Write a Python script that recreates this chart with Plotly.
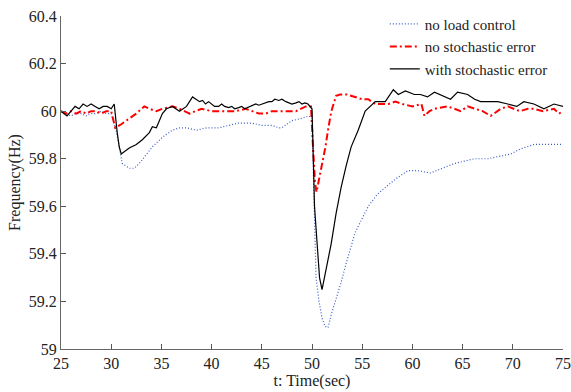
import plotly.graph_objects as go

# ---- data: with stochastic error (black) ----
t_with = [25.0,25.3,25.6,26.0,26.4,26.8,27.2,27.6,28.0,28.4,28.8,29.2,29.6,30.0,30.3,30.6,30.8,31.0,31.3,31.8,
          32.5,33.1,33.8,34.1,34.5,34.8,35.1,35.5,36.1,36.8,37.5,38.1,38.5,38.8,39.1,39.4,39.7,40.0,40.3,40.7,
          41.0,41.3,41.7,42.0,42.3,42.7,43.0,43.3,43.6,44.0,44.4,44.7,45.0,45.4,45.7,46.0,46.3,46.7,47.0,47.4,
          47.7,48.0,48.4,48.7,49.0,49.3,49.6,50.0,50.1,50.25,50.5,50.75,51.0,51.4,51.9,52.4,52.9,53.4,53.9,54.6,
          55.3,56.3,57.3,58.1,58.6,59.3,60.2,60.8,61.5,62.2,63.2,63.8,64.5,65.5,66.2,66.8,67.5,68.5,69.5,70.4,
          71.1,72.1,73.1,74.1,75.0]
f_with = [60.00,59.99,59.98,60.00,60.02,60.01,60.03,60.02,60.03,60.02,60.01,60.02,60.02,60.01,60.03,59.91,59.85,59.82,59.83,59.845,
          59.86,59.88,59.91,59.935,59.93,59.96,59.99,60.01,60.02,60.00,60.02,60.06,60.05,60.04,60.045,60.03,60.04,60.03,60.02,60.02,
          60.03,60.02,60.015,60.02,60.01,60.015,60.02,60.01,60.015,60.02,60.03,60.025,60.03,60.035,60.04,60.04,60.05,60.045,60.05,60.04,
          60.035,60.03,60.035,60.04,60.03,60.035,60.03,60.01,59.85,59.60,59.45,59.30,59.25,59.33,59.44,59.57,59.68,59.77,59.85,59.92,
          60.00,60.04,60.04,60.09,60.07,60.085,60.07,60.07,60.06,60.08,60.06,60.05,60.08,60.07,60.05,60.04,60.04,60.04,60.03,60.02,
          60.04,60.03,60.01,60.03,60.02]

# ---- data: no stochastic error (red) ----
t_nse = [25.0,25.5,26.0,26.5,27.0,27.5,28.0,28.5,29.0,29.5,30.0,30.2,30.4,31.0,31.8,32.5,33.3,33.8,34.5,35.1,
         36.1,36.8,37.8,38.5,39.0,40.0,40.7,42.4,43.4,44.0,44.7,45.4,46.0,46.7,47.4,48.4,49.4,49.9,50.1,50.3,
         50.45,50.94,51.34,51.63,51.93,52.4,52.8,53.5,54.3,55.0,55.6,55.9,56.3,57.0,57.6,58.3,59.0,60.0,60.9,61.2,
         61.7,62.2,63.5,64.2,64.8,65.5,66.2,67.0,67.8,68.8,69.5,70.7,71.5,72.1,73.0,74.1,74.6,75.0]
f_nse = [60.00,59.99,60.00,59.99,60.00,59.99,60.00,60.00,59.99,60.00,60.00,59.97,59.93,59.945,59.967,59.99,60.02,60.01,60.00,60.01,
         60.02,60.01,59.99,60.00,60.01,60.00,60.00,60.00,60.01,60.00,59.99,59.99,60.00,60.00,60.00,60.00,60.02,60.02,59.85,59.70,
         59.66,59.76,59.85,59.93,60.00,60.065,60.07,60.07,60.06,60.05,60.05,60.04,60.03,60.03,60.03,60.04,60.03,60.02,60.03,59.98,
         60.00,60.01,60.02,60.01,60.00,60.02,60.01,60.00,59.98,60.01,60.02,60.00,60.01,60.01,60.00,60.01,59.99,60.00]

# ---- data: no load control (blue) ----
t_nlc = [25.0,25.5,26.0,26.5,27.0,27.5,27.9,28.5,29.0,29.5,30.0,30.5,30.8,31.1,31.8,32.3,32.8,33.5,34.1,35.1,
         36.1,36.8,37.5,38.5,39.5,40.7,41.7,42.7,44.0,45.0,46.0,46.7,47.0,48.0,49.0,49.7,50.0,50.2,50.4,50.7,
         51.0,51.3,51.6,51.93,52.4,52.9,53.4,54.3,55.6,56.5,57.6,58.5,59.55,60.5,61.8,63.0,64.2,65.2,66.2,67.5,
         68.8,69.8,70.7,72.1,73.5,74.7,75.0]
f_nlc = [60.00,59.99,59.98,59.99,59.99,59.98,59.99,59.99,60.00,59.99,59.99,59.92,59.84,59.78,59.76,59.76,59.78,59.82,59.85,59.89,
         59.92,59.93,59.93,59.92,59.93,59.93,59.94,59.95,59.95,59.94,59.94,59.93,59.93,59.96,59.97,59.98,59.97,59.60,59.30,59.20,
         59.13,59.095,59.09,59.147,59.21,59.28,59.36,59.49,59.60,59.65,59.69,59.72,59.75,59.75,59.74,59.76,59.78,59.79,59.80,59.80,
         59.81,59.82,59.84,59.86,59.86,59.86,59.86]

x_ticks = [25, 30, 35, 40, 45, 50, 55, 60, 65, 70, 75]
y_ticks = [59, 59.2, 59.4, 59.6, 59.8, 60, 60.2, 60.4]
y_labels = ["59", "59.2", "59.4", "59.6", "59.8", "60", "60.2", "60.4"]

FONT = "Liberation Serif"
TEXT = "#222222"

fig = go.Figure()
fig.add_trace(go.Scatter(x=t_nlc, y=f_nlc, mode="lines", name="no load control",
                         line=dict(color="#3a5bc7", width=1.2, dash="1px,2px")))
fig.add_trace(go.Scatter(x=t_nse, y=f_nse, mode="lines", name="no stochastic error",
                         line=dict(color="#ff0000", width=2, dash="7px,3px,2px,3px")))
fig.add_trace(go.Scatter(x=t_with, y=f_with, mode="lines", name="with stochastic error",
                         line=dict(color="#000000", width=1.2)))

fig.update_layout(
    template="none",
    width=571, height=392,
    margin=dict(l=61, r=8, t=9, b=43),
    paper_bgcolor="white", plot_bgcolor="white",
    font=dict(family=FONT, size=16, color=TEXT),
    showlegend=True,
    legend=dict(x=0.645, y=1.025, xanchor="left", yanchor="top",
                bgcolor="rgba(0,0,0,0)", font=dict(family=FONT, size=15, color=TEXT),
                itemwidth=30, tracegroupgap=0),
)
fig.update_xaxes(range=[25, 75.0001], tickvals=x_ticks, ticks="inside", ticklen=5, tickcolor="#555",
                 automargin=False, tickfont=dict(family=FONT, size=16, color=TEXT),
                 showline=True, linecolor="#666", linewidth=1, showgrid=False, zeroline=False,
                 title=dict(text="t: Time(sec)", font=dict(family=FONT, size=16, color=TEXT), standoff=2))
fig.update_yaxes(range=[59, 60.4001], tickvals=y_ticks, ticktext=y_labels, ticks="inside", ticklen=5,
                 automargin=False, tickfont=dict(family=FONT, size=16, color=TEXT),
                 tickcolor="#555", showline=True, linecolor="#666", linewidth=1, showgrid=False,
                 zeroline=False,
                 title=dict(text="Frequency(Hz)", font=dict(family=FONT, size=16, color=TEXT), standoff=4))

fig.write_html("out.html")
